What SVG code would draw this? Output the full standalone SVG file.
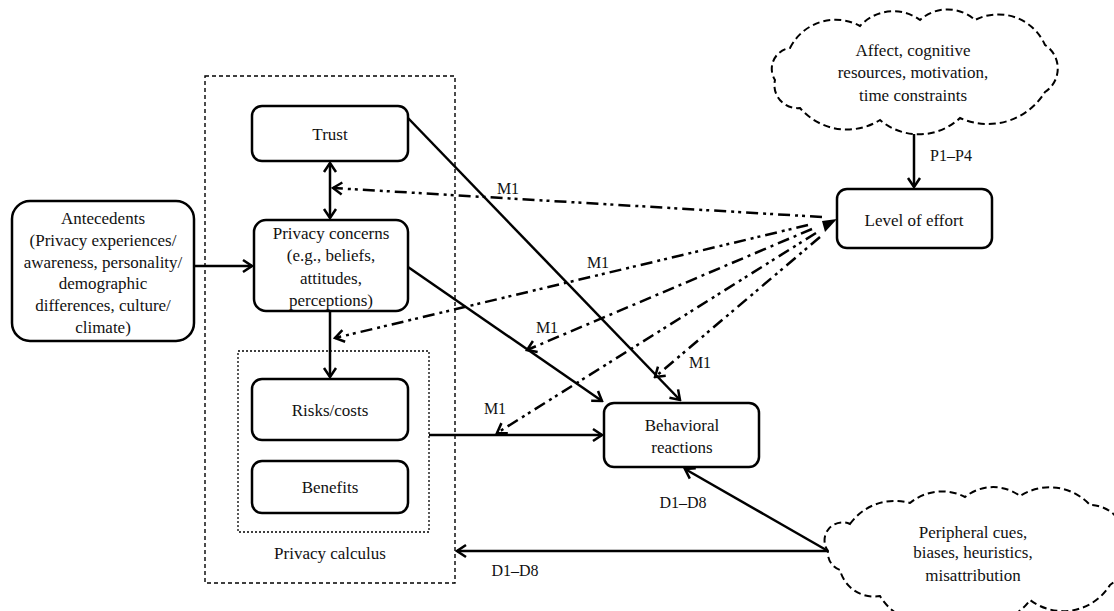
<svg xmlns="http://www.w3.org/2000/svg" width="1114" height="611" viewBox="0 0 1114 611" font-family="'Liberation Serif', 'Times New Roman', 'DejaVu Serif', serif">
<style>
text{font-family:'Liberation Serif','Times New Roman','DejaVu Serif',serif;font-size:17px;fill:#111;text-anchor:middle}
.lbl{font-size:16px}
.box{fill:#fff;stroke:#000;stroke-width:2.5}
.grp{fill:none;stroke:#000;stroke-width:1.4;stroke-dasharray:4 3}
.grp2{fill:none;stroke:#000;stroke-width:1.3;stroke-dasharray:2 2}
.cloud{fill:#fff;stroke:#000;stroke-width:2;stroke-dasharray:7 4}
.solid{fill:none;stroke:#000;stroke-width:2.5}
.dd{fill:none;stroke:#000;stroke-width:2.5;stroke-dasharray:12 5 3 5}
.ddd{fill:none;stroke:#000;stroke-width:2.5;stroke-dasharray:12 5 3 4 3 5}
</style>
<defs>
<marker id="ah" viewBox="-12 -8 14 16" markerWidth="14" markerHeight="16" refX="0" refY="0" orient="auto-start-reverse" markerUnits="userSpaceOnUse">
<path d="M-9,-6 L0,0 L-9,6" fill="none" stroke="#000" stroke-width="2.5"/>
</marker>
</defs>
<g id="privacy-region">
<rect class="grp" x="205" y="76" width="250" height="507"/>
</g>
<g id="privacy-calculus">
<rect class="grp2" x="238" y="351" width="191" height="181"/>
<text x="330" y="559">Privacy calculus</text>
</g>
<g id="trust">
<rect class="box" x="252" y="106" width="156" height="55" rx="10"/>
<text x="330" y="140">Trust</text>
</g>
<g id="privacy-concerns">
<rect class="box" x="254" y="220" width="154" height="91" rx="12"/>
<text x="331" y="239">Privacy concerns</text>
<text x="331" y="261">(e.g., beliefs,</text>
<text x="331" y="284">attitudes,</text>
<text x="331" y="306">perceptions)</text>
</g>
<g id="risks">
<rect class="box" x="252" y="379" width="156" height="61" rx="10"/>
<text x="330" y="416">Risks/costs</text>
</g>
<g id="benefits">
<rect class="box" x="252" y="461" width="156" height="52" rx="10"/>
<text x="330" y="493">Benefits</text>
</g>
<g id="antecedents">
<rect class="box" x="12" y="201" width="182" height="140" rx="18"/>
<text x="103" y="224">Antecedents</text>
<text x="103" y="246">(Privacy experiences/</text>
<text x="103" y="268">awareness, personality/</text>
<text x="103" y="289">demographic</text>
<text x="103" y="311">differences, culture/</text>
<text x="103" y="333">climate)</text>
</g>
<g id="level-of-effort">
<rect class="box" x="837" y="189" width="155" height="59" rx="10"/>
<text x="914" y="226">Level of effort</text>
</g>
<g id="behavioral">
<rect class="box" x="604" y="403" width="155" height="64" rx="10"/>
<text x="682" y="431">Behavioral</text>
<text x="682" y="453">reactions</text>
</g>
<g id="cloud-affect">
<path class="cloud" d="M790,48 A51,51 0 0 1 860,26 A45,45 0 0 1 920,20 A41,41 0 0 1 975,20 A51,51 0 0 1 1045,45 A28,28 0 0 1 1045,92 A67,67 0 0 1 960,118 A60,60 0 0 1 880,120 A62,62 0 0 1 800,108 A23,23 0 0 1 775,80 A21,21 0 0 1 790,48 Z"/>
<text x="913" y="56">Affect, cognitive</text>
<text x="913" y="78">resources, motivation,</text>
<text x="913" y="101">time constraints</text>
</g>
<g id="cloud-peripheral">
<path class="cloud" d="M850,524 A55,55 0 0 1 910,503 A50,50 0 0 1 965,497 A45,45 0 0 1 1020,496 A55,55 0 0 1 1090,505 A35,35 0 0 1 1125,540 A40,40 0 0 1 1110,585 A55,55 0 0 1 1030,600 A50,50 0 0 1 960,612 A55,55 0 0 1 880,596 A35,35 0 0 1 840,570 A18,18 0 0 1 828,551 A18,18 0 0 1 850,524 Z"/>
<text x="973" y="538">Peripheral cues,</text>
<text x="973" y="558">biases, heuristics,</text>
<text x="973" y="581">misattribution</text>
</g>
<g id="connectors">
<line class="solid" x1="194" y1="266" x2="252" y2="266" marker-end="url(#ah)"/>
<line class="solid" x1="330" y1="163" x2="330" y2="218" marker-start="url(#ah)" marker-end="url(#ah)"/>
<line class="solid" x1="330" y1="311" x2="330" y2="377" marker-end="url(#ah)"/>
<line class="solid" x1="429" y1="435" x2="602" y2="435" marker-end="url(#ah)"/>
<line class="solid" x1="408" y1="118" x2="680" y2="400" marker-end="url(#ah)"/>
<line class="solid" x1="408" y1="267" x2="602" y2="401" marker-end="url(#ah)"/>
<line class="solid" x1="914" y1="134" x2="914" y2="187" marker-end="url(#ah)"/>
<line class="solid" x1="828" y1="551" x2="685" y2="469" marker-end="url(#ah)"/>
<line class="solid" x1="828" y1="551" x2="457" y2="551" marker-end="url(#ah)"/>
<line class="ddd" x1="822" y1="217" x2="333" y2="188" marker-end="url(#ah)"/>
<line class="ddd" x1="808" y1="225" x2="335" y2="338" marker-end="url(#ah)"/>
<line class="dd" x1="812" y1="229" x2="527" y2="350" marker-end="url(#ah)"/>
<line class="ddd" x1="816" y1="233" x2="497" y2="433" marker-end="url(#ah)"/>
<line class="ddd" x1="820" y1="237" x2="655" y2="377" marker-end="url(#ah)"/>
<polygon points="837,219 822,221 825,232" fill="#000"/>
<text class="lbl" x="508" y="194">M1</text>
<text class="lbl" x="598" y="268">M1</text>
<text class="lbl" x="547" y="333">M1</text>
<text class="lbl" x="700" y="368">M1</text>
<text class="lbl" x="495" y="414">M1</text>
<text class="lbl" x="951" y="161">P1–P4</text>
<text class="lbl" x="683" y="508">D1–D8</text>
<text class="lbl" x="515" y="576">D1–D8</text>
</g>
</svg>
